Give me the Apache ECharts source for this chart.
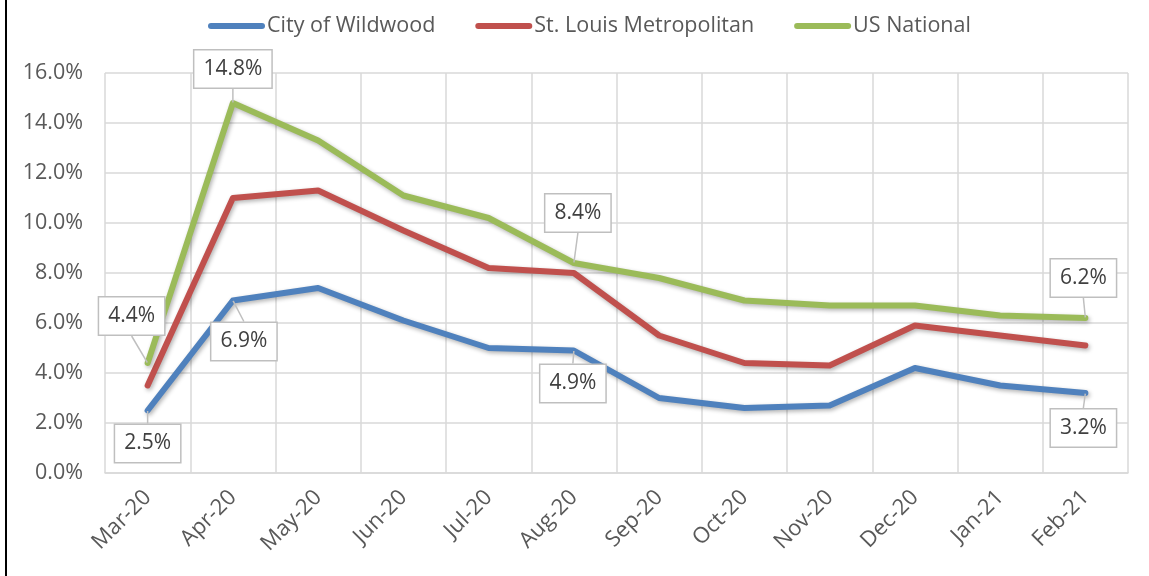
<!DOCTYPE html>
<html>
<head>
<meta charset="utf-8">
<script src="https://cdn.jsdelivr.net/npm/echarts@6/dist/echarts.min.js"></script>
<style>
    html, body { margin: 0; padding: 0; background: #fff; }
    #id-div-chart { width: 1149px; height: 576px; }
</style>
</head>
<body>
<div id="id-div-chart"></div>
<script>
var months = ['Mar-20', 'Apr-20', 'May-20', 'Jun-20', 'Jul-20', 'Aug-20', 'Sep-20', 'Oct-20', 'Nov-20', 'Dec-20', 'Jan-21', 'Feb-21']
var wildwood = [2.5, 6.9, 7.4, 6.1, 5.0, 4.9, 3.0, 2.6, 2.7, 4.2, 3.5, 3.2]
var stLouis = [3.5, 11.0, 11.3, 9.7, 8.2, 8.0, 5.5, 4.4, 4.3, 5.9, 5.5, 5.1]
var usNational = [4.4, 14.8, 13.3, 11.1, 10.2, 8.4, 7.8, 6.9, 6.7, 6.7, 6.3, 6.2]
var yTicks = [0, 2, 4, 6, 8, 10, 12, 14, 16]

var font = 'Open Sans'

// where each callout box sits, relative to its point
var callouts = {
    wildwood: {0: [0, 33], 1: [11, 41], 5: [-1, 33], 11: [-2, 35]},
    usNational: {0: [-16, -47], 1: [0, -34], 5: [4, -50], 11: [-2, -40]},
    stLouis: {},
}

var pct = function(v) {
    return v.toFixed(1) + '%'
}

var seriesData = function(values, marks) {
    return values.map(function(v, i) {
        return {
            value: v,
            label: {show: marks[i] != undefined},
        }
    })
}

var lineSeries = function(name, values, color, marks) {
    return {
        name: name,
        type: 'line',
        data: seriesData(values, marks),
        symbol: 'circle',
        symbolSize: 1,
        showSymbol: true,
        itemStyle: {color: color},
        lineStyle: {
            color: color,
            width: 6,
            cap: 'round',
            join: 'round',
            shadowColor: 'rgba(0, 0, 0, 0.3)',
            shadowBlur: 4,
            shadowOffsetX: 1.5,
            shadowOffsetY: 2,
        },
        label: {
            position: 'inside',
            formatter: function(p) {
                return pct(p.value)
            },
            fontFamily: font,
            fontSize: 21,
            color: '#404040',
            backgroundColor: '#fff',
            borderColor: '#bfbfbf',
            borderWidth: 1.5,
            padding: [7, 9],
            lineHeight: 23,
        },
        labelLine: {
            show: true,
            lineStyle: {color: '#bfbfbf', width: 1.5},
        },
        labelLayout: function(p) {
            var m = marks[p.dataIndex]
            if (m == undefined) {
                return {}
            }
            return {dx: m[0], dy: m[1]}
        },
        emphasis: {disabled: true},
        z: 2,
    }
}

var legendIcon = 'path://M3,0 L54,0 A3,3 0 0 1 54,6 L3,6 A3,3 0 0 1 3,0 Z'

var option = {
    animation: false,
    backgroundColor: '#fff',
    textStyle: {fontFamily: font},
    legend: {
        left: 203,
        top: 10,
        itemWidth: 57,
        itemHeight: 7,
        itemGap: 40,
        icon: legendIcon,
        textStyle: {fontFamily: font, fontSize: 21.5, color: '#595959', padding: [0, 0, 0, -3]},
        data: ['City of Wildwood', 'St. Louis Metropolitan', 'US National'],
    },
    grid: {
        left: 105,
        right: 21,
        top: 73,
        bottom: 103,
    },
    xAxis: {
        type: 'category',
        data: months,
        boundaryGap: true,
        axisLine: {lineStyle: {color: '#d9d9d9', width: 1.5}},
        axisTick: {show: false},
        splitLine: {show: true, lineStyle: {color: '#d9d9d9', width: 1.5}},
        axisLabel: {
            rotate: 45,
            margin: 21,
            fontFamily: font,
            fontSize: 22,
            color: '#595959',
        },
    },
    yAxis: {
        type: 'value',
        min: yTicks[0],
        max: yTicks[yTicks.length - 1],
        interval: yTicks[1] - yTicks[0],
        axisLine: {show: false},
        axisTick: {show: false},
        splitLine: {lineStyle: {color: '#d9d9d9', width: 1.5}},
        axisLabel: {
            margin: 22,
            fontFamily: font,
            fontSize: 21.5,
            color: '#595959',
            formatter: pct,
        },
    },
    graphic: [
        {
            type: 'rect',
            shape: {x: 5, y: 0, width: 2, height: 576},
            style: {fill: '#000'},
        },
    ],
    series: [
        lineSeries('City of Wildwood', wildwood, '#4f81bd', callouts.wildwood),
        lineSeries('St. Louis Metropolitan', stLouis, '#c0504d', callouts.stLouis),
        lineSeries('US National', usNational, '#9bbb59', callouts.usNational),
    ],
}

var chart = echarts.init(document.querySelector('#id-div-chart'))
chart.setOption(option)
</script>
</body>
</html>
